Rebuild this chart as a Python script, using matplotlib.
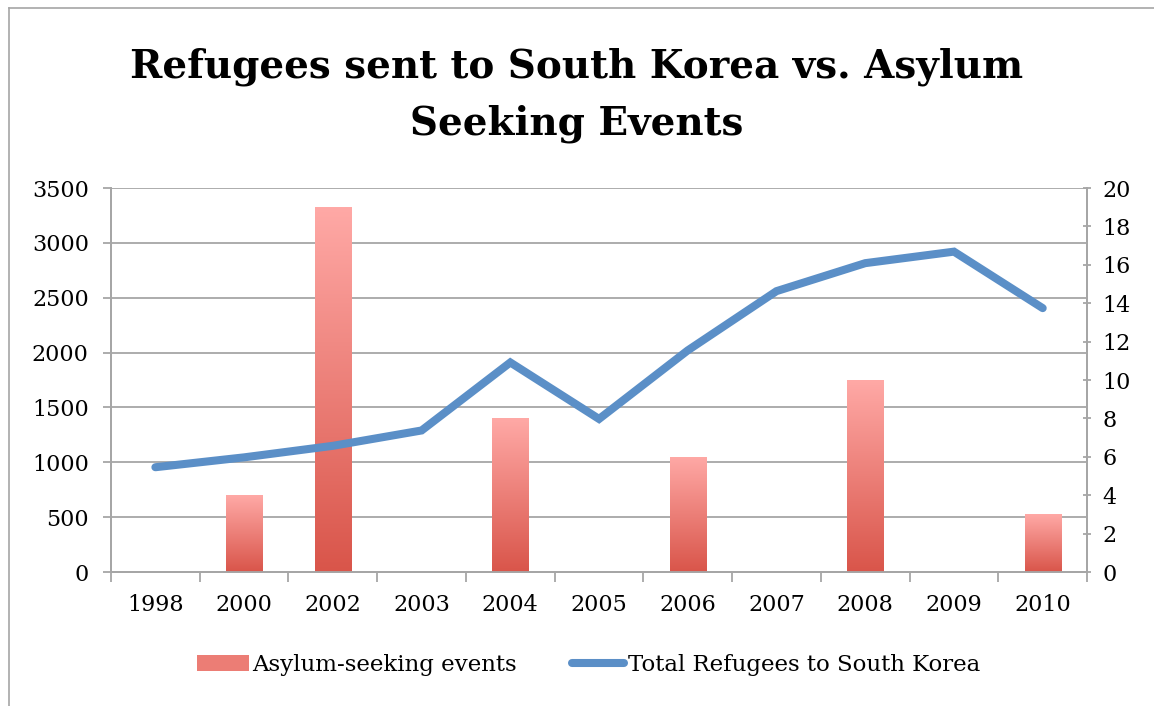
import matplotlib; matplotlib.use("Agg"); import matplotlib.pyplot as plt
import numpy as np
from matplotlib.colors import LinearSegmentedColormap
from matplotlib.lines import Line2D
from matplotlib.patches import Patch

YEARS = ["1998", "2000", "2002", "2003", "2004", "2005", "2006", "2007", "2008", "2009", "2010"]
REFUGEES = [955, 1045, 1150, 1290, 1910, 1395, 2020, 2560, 2815, 2920, 2405]
ASYLUM = [0, 4, 19, 0, 8, 0, 6, 0, 10, 0, 3]

GRID = "#a6a6a6"
BLUE = "#5b8fc7"
CMAP = LinearSegmentedColormap.from_list("bar", ["#d9554a", "#ffa9a6"])
plt.rcParams["font.family"] = "DejaVu Serif"

fig = plt.figure(figsize=(11.54, 7.06), dpi=100)
ax = fig.add_axes([0.0962, 0.1898, 0.8458, 0.5439])
ax2 = ax.twinx()

x = np.arange(len(YEARS))
ax.set_xlim(-0.5, len(YEARS) - 0.5)
ax.set_ylim(0, 3500)
ax2.set_ylim(0, 20)
ax.set_yticks(range(0, 3501, 500))
ax2.set_yticks(range(0, 21, 2))
for y in range(500, 3501, 500):
    ax.axhline(y, color=GRID, lw=1.3, zorder=0)

# gradient bars on the secondary axis
bars = ax2.bar(x, ASYLUM, width=0.41, color="none", zorder=2)
grad = np.linspace(0, 1, 256).reshape(-1, 1)
for b in bars:
    if b.get_height() <= 0:
        continue
    x0, w, h = b.get_x(), b.get_width(), b.get_height()
    im = ax2.imshow(grad, cmap=CMAP, aspect="auto", origin="lower",
                    extent=(x0, x0 + w, 0, h), zorder=2)
    im.set_clip_path(b)
ax2.set_xlim(-0.5, len(YEARS) - 0.5)

ax2.plot(x, [r / 3500 * 20 for r in REFUGEES], color=BLUE, lw=5.8,
         solid_capstyle="round", solid_joinstyle="miter", zorder=3)

for a in (ax, ax2):
    a.spines["top"].set_visible(False)
    for s in ("left", "right", "bottom"):
        a.spines[s].set_color(GRID)
        a.spines[s].set_linewidth(1.3)
ax.set_xticks(x)
ax.set_xticklabels(YEARS)
ax.set_xticks(np.arange(-0.5, len(YEARS), 1), minor=True)
ax.tick_params(axis="x", which="major", length=0, pad=16, labelsize=16)
ax.tick_params(axis="x", which="minor", length=7, width=1.3, color=GRID, direction="out")
ax.tick_params(axis="y", length=6, width=1.3, color=GRID, labelsize=16, pad=10)
ax2.tick_params(axis="y", length=6, width=1.3, color=GRID, direction="inout",
                labelsize=16, pad=8)

fig.text(0.5, 0.905, "Refugees sent to South Korea vs. Asylum", ha="center",
         va="center", fontsize=28, fontweight="bold")
fig.text(0.5, 0.825, "Seeking Events", ha="center", va="center",
         fontsize=28, fontweight="bold")

# outer chart frame
fig.add_artist(Line2D([9 / 1154, 1], [1 - 8 / 706] * 2, color="#a6a6a6", lw=1.2))
fig.add_artist(Line2D([9 / 1154] * 2, [0, 1 - 8 / 706], color="#a6a6a6", lw=1.2))

handles = [Patch(facecolor="#ec7d75", edgecolor="none"),
           Line2D([0], [0], color=BLUE, lw=5.8, solid_capstyle="round")]
fig.legend(handles, ["Asylum-seeking events", "Total Refugees to South Korea"],
           loc="center", bbox_to_anchor=(0.51, 0.058), ncol=2, frameon=False,
           fontsize=16.5, handlelength=2.27, handletextpad=0.15, columnspacing=2.4)

fig.savefig("out.png", dpi=100, facecolor="white")
